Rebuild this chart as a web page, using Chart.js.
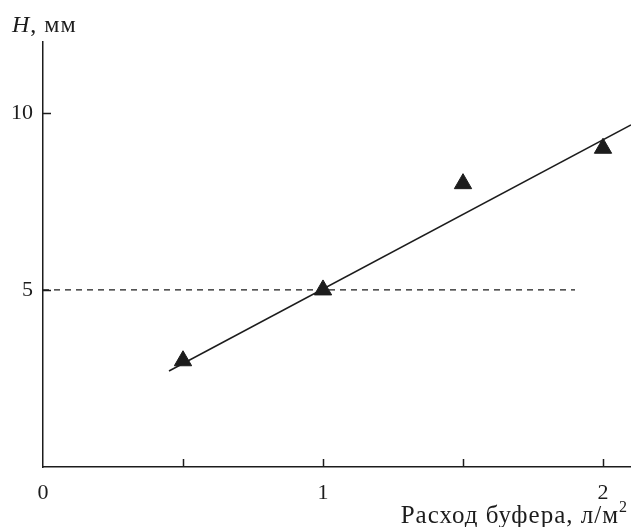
<!DOCTYPE html>
<html lang="ru">
<head>
    <meta charset="utf-8">
    <title>H vs расход буфера</title>
    <script src="https://cdn.jsdelivr.net/npm/chart.js"></script>
    <style>
        html, body {
            margin: 0;
            padding: 0;
            background: #ffffff;
        }
        .wrap {
            width: 631px;
            height: 527px;
        }
    </style>
</head>
<body>
    <div class="wrap">
        <canvas id="chart" width="631" height="527"></canvas>
    </div>

    <script>
        // данные
        const flowRates = [0.5, 1, 1.5, 2];
        const heights = [3, 5, 8, 9];
        const fitX = [0.45, 2.1];
        const fitY = [2.71, 9.66];
        const refX = [0, 1.9];
        const refY = [5, 5];
        const xTickValues = [0, 0.5, 1, 1.5, 2];
        const xTickLabels = ['0', '', '1', '', '2'];
        const yTickValues = [5, 10];
        const yTickLabels = ['5', '10'];

        const ink = '#1c1c1c';
        const serif = '"Liberation Serif", "DejaVu Serif", serif';

        const toPoints = (xs, ys) => xs.map((v, i) => ({ x: v, y: ys[i] }));

        // засечки внутрь, подписи осей
        const insideTicks = {
            id: 'insideTicks',
            afterDraw(chart) {
                const { ctx, scales: { x, y } } = chart;
                ctx.save();
                ctx.strokeStyle = ink;
                ctx.lineWidth = 1.5;
                ctx.beginPath();
                xTickValues.forEach(v => {
                    if (v === 0) return;
                    const px = Math.round(x.getPixelForValue(v)) + 0.5;
                    ctx.moveTo(px, y.bottom);
                    ctx.lineTo(px, y.bottom - 8);
                });
                yTickValues.forEach(v => {
                    const py = Math.round(y.getPixelForValue(v)) + 0.5;
                    ctx.moveTo(x.left, py);
                    ctx.lineTo(x.left + 8, py);
                });
                ctx.stroke();

                ctx.fillStyle = ink;
                ctx.textBaseline = 'alphabetic';
                ctx.letterSpacing = '1px';

                // подпись оси Y
                ctx.textAlign = 'left';
                ctx.font = 'italic 24px ' + serif;
                ctx.fillText('H', 12, 32);
                const w = ctx.measureText('H').width;
                ctx.font = '24px ' + serif;
                ctx.fillText(', мм', 12 + w, 32);

                // подпись оси X
                ctx.textAlign = 'right';
                ctx.font = '16px ' + serif;
                const right = chart.width - 3;
                ctx.fillText('2', right, 512);
                const sw = ctx.measureText('2').width;
                ctx.font = '25px ' + serif;
                ctx.fillText('Расход буфера, л/м', right - sw, 523);
                ctx.restore();
            }
        };

        const ctx = document.getElementById('chart').getContext('2d');
        const chart = new Chart(ctx, {
            type: 'scatter',
            data: {
                datasets: [
                    {
                        label: 'опыт',
                        data: toPoints(flowRates, heights),
                        pointStyle: 'triangle',
                        pointRadius: 10,
                        pointBackgroundColor: ink,
                        pointBorderColor: ink,
                        pointBorderWidth: 1,
                        showLine: false
                    },
                    {
                        label: 'аппроксимация',
                        type: 'line',
                        data: toPoints(fitX, fitY),
                        borderColor: ink,
                        borderWidth: 1.5,
                        pointRadius: 0,
                        fill: false
                    },
                    {
                        label: 'H = 5',
                        type: 'line',
                        data: toPoints(refX, refY),
                        borderColor: ink,
                        borderWidth: 1.2,
                        borderDash: [6, 5],
                        pointRadius: 0,
                        fill: false
                    }
                ]
            },
            options: {
                responsive: false,
                animation: false,
                layout: {
                    autoPadding: false,
                    padding: { top: 42, right: 0, left: 0, bottom: 0 }
                },
                plugins: {
                    legend: { display: false },
                    tooltip: { enabled: false }
                },
                scales: {
                    x: {
                        type: 'linear',
                        min: 0,
                        max: 2.1,
                        grid: { display: false },
                        border: { display: true, color: ink, width: 1.5 },
                        afterBuildTicks: (s) => { s.ticks = xTickValues.map(v => ({ value: v })); },
                        afterFit: (s) => {
                            s.height = 60;
                            s.paddingRight = 0;
                            s.paddingLeft = 0;
                        },
                        ticks: {
                            color: ink,
                            padding: 5,
                            maxRotation: 0,
                            autoSkip: false,
                            font: { family: serif, size: 22 },
                            callback: (v) => xTickLabels[xTickValues.indexOf(v)]
                        }
                    },
                    y: {
                        type: 'linear',
                        min: 0,
                        max: 12,
                        grid: { display: false },
                        border: { display: true, color: ink, width: 1.5 },
                        afterBuildTicks: (s) => { s.ticks = yTickValues.map(v => ({ value: v })); },
                        afterFit: (s) => { s.width = 43; },
                        ticks: {
                            color: ink,
                            padding: 2,
                            font: { family: serif, size: 22 },
                            callback: (v) => yTickLabels[yTickValues.indexOf(v)]
                        }
                    }
                }
            },
            plugins: [insideTicks]
        });
    </script>
</body>
</html>
